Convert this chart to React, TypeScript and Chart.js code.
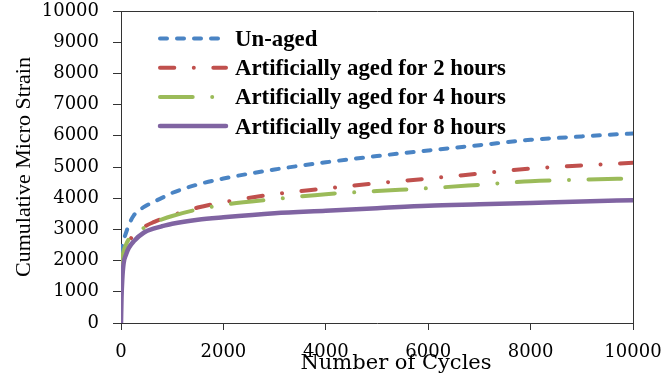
import React, { useEffect, useRef } from "react";
import { Chart, registerables } from "chart.js";

Chart.register(...registerables);

const cycles = [0, 10, 25, 50, 100, 150, 250, 450, 650, 800, 1000, 1500, 2000, 3000, 4000, 5000, 6000, 7000, 8000, 9000, 10000];
const unaged = [2250, 2350, 2480, 2650, 2900, 3130, 3450, 3720, 3890, 4010, 4170, 4440, 4630, 4920, 5150, 5350, 5530, 5700, 5870, 5980, 6076];
const aged2h = [1700, 1850, 2000, 2180, 2420, 2600, 2830, 3080, 3240, 3340, 3450, 3700, 3870, 4130, 4310, 4480, 4630, 4790, 4950, 5050, 5133];
const aged4h = [1650, 1900, 2100, 2300, 2520, 2680, 2850, 3050, 3220, 3320, 3430, 3640, 3790, 3970, 4130, 4230, 4320, 4430, 4545, 4595, 4633];
const aged8h = [0, 800, 1400, 1900, 2200, 2400, 2620, 2900, 3030, 3100, 3180, 3310, 3390, 3520, 3600, 3680, 3760, 3805, 3850, 3895, 3937];

const seriesLabels = [
  "Un-aged",
  "Artificially aged for 2 hours",
  "Artificially aged for 4 hours",
  "Artificially aged for 8 hours",
];
const seriesColors = ["#4a84c4", "#c0504d", "#9bbb59", "#8064a2"];
const seriesDashes = [[7, 10], [14.3, 19.5, 0.01, 19.5], [32.7, 19.5, 0.01, 19.5], []];
const seriesWidths = [4, 4, 4, 4.5];

const xTitle = "Number of Cycles";
const yTitle = "Cumulative Micro Strain";

const legendPlugin = {
  id: "insideLegend",
  afterDatasetsDraw(chart: any) {
    const { ctx, chartArea } = chart;
    const x0 = chartArea.left + 37;
    const x1 = chartArea.left + 107;
    const tx = chartArea.left + 114;
    chart.data.datasets.forEach((ds: any, i: number) => {
      const y = chartArea.top + 27.5 + i * 29.2;
      ctx.save();
      ctx.strokeStyle = ds.borderColor;
      ctx.lineWidth = ds.borderWidth;
      ctx.lineCap = "round";
      ctx.setLineDash(ds.borderDash || []);
      ctx.beginPath();
      ctx.moveTo(x0 + 2, y);
      ctx.lineTo(x1 - 2, y);
      ctx.stroke();
      ctx.setLineDash([]);
      ctx.fillStyle = "#000";
      ctx.font = "bold 22.8px 'Liberation Serif'";
      ctx.textBaseline = "alphabetic";
      ctx.textAlign = "left";
      ctx.fillText(ds.label, tx, y + 7.5);
      ctx.restore();
    });
  },
};

const boxPlugin = {
  id: "plotBox",
  afterDraw(chart: any) {
    const { ctx, chartArea } = chart;
    ctx.save();
    ctx.strokeStyle = "#333";
    ctx.lineWidth = 1;
    ctx.beginPath();
    const t = Math.round(chartArea.top) + 0.5;
    const r = Math.round(chartArea.right) + 0.5;
    ctx.moveTo(Math.round(chartArea.left), t);
    ctx.lineTo(r, t);
    ctx.lineTo(r, Math.round(chartArea.bottom));
    ctx.stroke();
    // x-axis title, offset slightly right of the plot centre as in the source figure
    ctx.fillStyle = "#000";
    ctx.font = "21px 'DejaVu Serif'";
    ctx.textAlign = "center";
    ctx.textBaseline = "alphabetic";
    ctx.fillText(xTitle, (chartArea.left + chartArea.right) / 2 + 19, chartArea.bottom + 46.3);
    ctx.restore();
  },
};

const plainNumber = (v: any) => String(v);

export default function App() {
  const ref = useRef<HTMLCanvasElement | null>(null);

  useEffect(() => {
    document.body.style.margin = "0";
    const canvas = ref.current;
    if (!canvas) return;
    const data = [unaged, aged2h, aged4h, aged8h];
    const chart = new Chart(canvas, {
      type: "line",
      data: {
        datasets: data.map((vals, i) => ({
          label: seriesLabels[i],
          data: cycles.map((c, j) => ({ x: c, y: vals[j] })),
          borderColor: seriesColors[i],
          backgroundColor: seriesColors[i],
          borderWidth: seriesWidths[i],
          borderDash: seriesDashes[i],
          borderCapStyle: "round",
          borderJoinStyle: "round",
          pointRadius: 0,
          fill: false,
          cubicInterpolationMode: "monotone",
          order: 3 - i,
        })),
      },
      options: {
        responsive: false,
        animation: false,
        events: [],
        layout: { padding: { top: 11, right: 32, left: 0, bottom: 0 } },
        plugins: {
          legend: { display: false },
          tooltip: { enabled: false },
        },
        scales: {
          x: {
            type: "linear",
            min: 0,
            max: 10000,
            afterFit: (s: any) => {
              s.height = 64;
              s.paddingLeft = 0;
              s.paddingRight = 0;
            },
            ticks: {
              stepSize: 2000,
              color: "#000",
              padding: 12,
              maxRotation: 0,
              callback: plainNumber,
              font: { family: "'DejaVu Serif'", size: 18 },
            },
            grid: {
              display: true,
              drawOnChartArea: false,
              drawTicks: true,
              tickLength: 7,
              tickColor: "#333",
            },
            border: { display: true, color: "#333", width: 1 },
            title: { display: false, text: xTitle },
          },
          y: {
            type: "linear",
            min: 0,
            max: 10000,
            afterFit: (s: any) => {
              s.width = 121;
              s.paddingTop = 0;
              s.paddingBottom = 0;
            },
            ticks: {
              stepSize: 1000,
              color: "#000",
              padding: 14,
              callback: plainNumber,
              font: { family: "'DejaVu Serif'", size: 18 },
            },
            grid: {
              display: true,
              drawOnChartArea: false,
              drawTicks: true,
              tickLength: 8,
              tickColor: "#333",
            },
            border: { display: true, color: "#333", width: 1 },
            title: {
              display: true,
              text: yTitle,
              color: "#000",
              padding: { top: 10.8, bottom: 0 },
              font: { family: "'Liberation Serif'", size: 22, lineHeight: 1.2 },
            },
          },
        },
      },
      plugins: [legendPlugin, boxPlugin],
    });
    return () => chart.destroy();
  }, []);

  return (
    <div style={{ width: 665, height: 387 }}>
      <canvas ref={ref} width={665} height={387} style={{ display: "block" }} />
    </div>
  );
}
